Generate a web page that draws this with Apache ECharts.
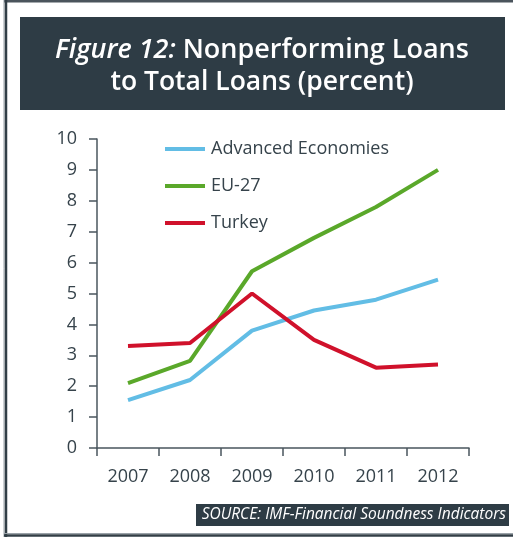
<!DOCTYPE html>
<html>
<head>
<meta charset="utf-8">
<script src="https://cdn.jsdelivr.net/npm/echarts@6/dist/echarts.min.js"></script>
<style>
html,body{margin:0;padding:0;background:#fff;}
#chart{width:513px;height:537px;}
</style>
</head>
<body>
<div id="chart"></div>
<script>
const years = ['2007', '2008', '2009', '2010', '2011', '2012'];
const advancedEconomies = [1.55, 2.2, 3.8, 4.45, 4.8, 5.45];
const eu27 = [2.1, 2.82, 5.72, 6.8, 7.8, 9.0];
const turkey = [3.3, 3.4, 5.0, 3.5, 2.6, 2.7];
const yTicks = [0, 1, 2, 3, 4, 5, 6, 7, 8, 9, 10];

const FONT = '"Open Sans", "Noto Sans", sans-serif';
const DARK = '#2e3c45';
const TEXT = '#36434b';

const chart = echarts.init(document.getElementById('chart'), null, {renderer: 'canvas'});
chart.setOption({
  animation: false,
  backgroundColor: '#ffffff',
  textStyle: {fontFamily: FONT},
  grid: {left: 97, right: 44, top: 139, bottom: 89, containLabel: false},
  legend: {
    orient: 'vertical',
    left: 160,
    top: 135,
    itemWidth: 40,
    itemHeight: 4,
    itemGap: 19,
    icon: 'rect',
    textStyle: {fontFamily: FONT, fontSize: 18, color: TEXT, padding: [0, 0, 0, 1]},
    data: ['Advanced Economies', 'EU-27', 'Turkey']
  },
  xAxis: {
    type: 'category',
    data: years,
    boundaryGap: true,
    axisLine: {lineStyle: {color: '#4a565e', width: 1.5}},
    axisTick: {show: true, length: 8, alignWithLabel: false, lineStyle: {color: '#4a565e', width: 1.5}},
    axisLabel: {fontFamily: FONT, fontSize: 18, color: TEXT, margin: 20},
    splitLine: {show: false}
  },
  yAxis: {
    type: 'value',
    min: yTicks[0],
    max: yTicks[yTicks.length - 1],
    interval: 1,
    axisLine: {show: true, lineStyle: {color: '#4a565e', width: 1.5}},
    axisTick: {show: true, length: 8, lineStyle: {color: '#4a565e', width: 1.5}},
    axisLabel: {fontFamily: FONT, fontSize: 18, color: TEXT, margin: 20},
    splitLine: {show: false}
  },
  series: [
    {name: 'Advanced Economies', type: 'line', data: advancedEconomies, symbol: 'none',
     lineStyle: {width: 4, color: '#62bde5'}, itemStyle: {color: '#62bde5'}},
    {name: 'EU-27', type: 'line', data: eu27, symbol: 'none',
     lineStyle: {width: 4, color: '#5aa82a'}, itemStyle: {color: '#5aa82a'}},
    {name: 'Turkey', type: 'line', data: turkey, symbol: 'none',
     lineStyle: {width: 4, color: '#d0112b'}, itemStyle: {color: '#d0112b'}}
  ],
  graphic: [
    {type: 'line', shape: {x1: 4, y1: 1.2, x2: 513, y2: 1.2}, style: {stroke: '#4a545c', lineWidth: 2.5}},
    {type: 'line', shape: {x1: 4, y1: 0, x2: 4, y2: 537}, style: {stroke: '#9aa2a8', lineWidth: 1}},
    {type: 'line', shape: {x1: 6, y1: 0, x2: 6, y2: 537}, style: {stroke: '#323e46', lineWidth: 2.5}},
    {type: 'line', shape: {x1: 4, y1: 533.5, x2: 513, y2: 533.5}, style: {stroke: '#9aa2a8', lineWidth: 1}},
    {type: 'line', shape: {x1: 4, y1: 535.5, x2: 513, y2: 535.5}, style: {stroke: '#323e46', lineWidth: 2.5}},
    {type: 'rect', shape: {x: 20, y: 17, width: 485, height: 93}, style: {fill: DARK}},
    {type: 'text', x: 262, y: 50, style: {
      text: '{i|Figure 12:} Nonperforming Loans',
      fill: '#ffffff', font: '600 27px ' + FONT, align: 'center', verticalAlign: 'middle',
      rich: {i: {fontStyle: 'italic', fontWeight: 600, fontSize: 27, fontFamily: FONT, fill: '#ffffff'}}
    }},
    {type: 'text', x: 262, y: 82, style: {
      text: 'to Total Loans (percent)',
      fill: '#ffffff', font: '600 26.5px ' + FONT, align: 'center', verticalAlign: 'middle'
    }},
    {type: 'rect', shape: {x: 196, y: 504, width: 313, height: 22}, style: {fill: DARK}},
    {type: 'text', x: 506, y: 515, style: {
      text: 'SOURCE: IMF-Financial Soundness Indicators',
      fill: '#ffffff', font: 'italic 15.5px ' + FONT, align: 'right', verticalAlign: 'middle'
    }}
  ]
});
</script>
</body>
</html>
